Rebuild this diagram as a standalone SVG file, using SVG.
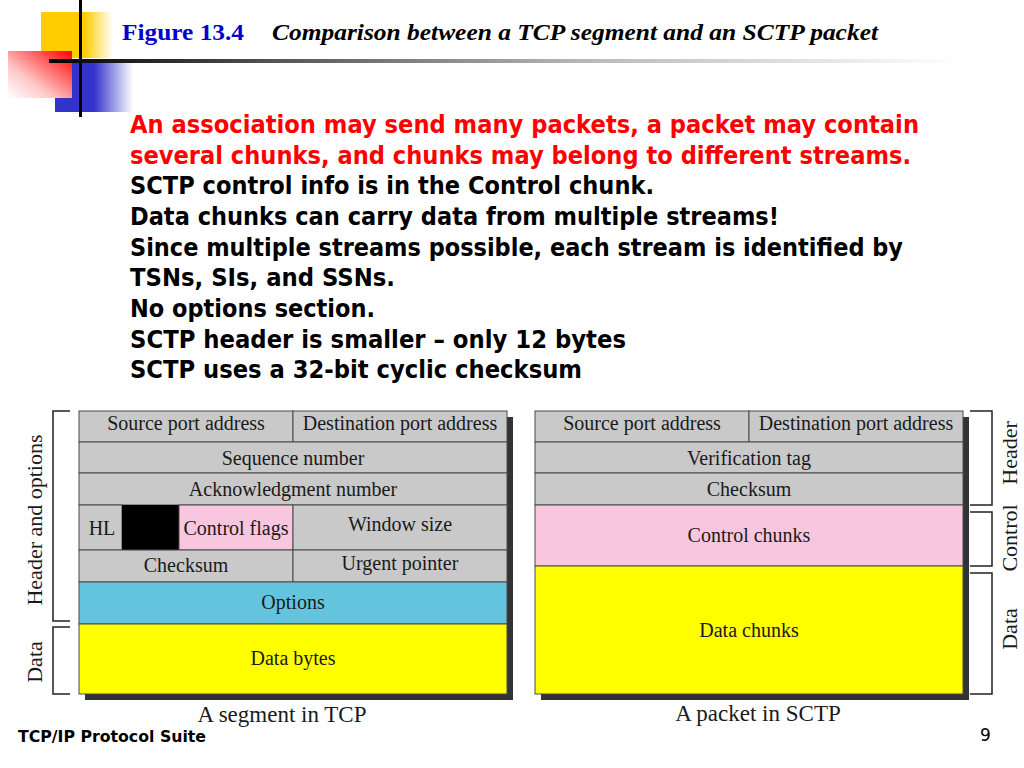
<svg xmlns="http://www.w3.org/2000/svg" width="1024" height="768" viewBox="0 0 1024 768">
<defs>
<linearGradient id="gYel" x1="0" y1="0" x2="1" y2="0"><stop offset="0" stop-color="#FFCC00"/><stop offset="0.6" stop-color="#FFCC00"/><stop offset="1" stop-color="#FFCC00" stop-opacity="0"/></linearGradient>
<linearGradient id="gRed" x1="0" y1="1" x2="1" y2="0"><stop offset="0" stop-color="#FFFFFF"/><stop offset="0.35" stop-color="#FFC8C8"/><stop offset="1" stop-color="#FF0000"/></linearGradient>
<linearGradient id="gBlue" x1="0" y1="0" x2="1" y2="0"><stop offset="0" stop-color="#3333CC"/><stop offset="0.5" stop-color="#3333CC"/><stop offset="1" stop-color="#3333CC" stop-opacity="0"/></linearGradient>
<linearGradient id="gLine" x1="0" y1="0" x2="1" y2="0"><stop offset="0" stop-color="#000000"/><stop offset="0.25" stop-color="#555555"/><stop offset="0.6" stop-color="#BBBBBB"/><stop offset="1" stop-color="#FFFFFF"/></linearGradient>
<style>
.body{font-family:"DejaVu Sans","Liberation Sans",sans-serif;font-weight:bold;font-size:24.5px}
.red{fill:#FF0000}
.blk{fill:#000000}
.lbl{font-family:"Liberation Serif","DejaVu Serif",serif;font-size:20px;fill:#1a1a1a;text-anchor:middle}
.cap{font-family:"Liberation Serif","DejaVu Serif",serif;font-size:23px;fill:#1a1a1a;text-anchor:middle}
.side{font-family:"Liberation Serif","DejaVu Serif",serif;font-size:22px;fill:#1a1a1a;text-anchor:middle}
.cell{stroke:#4a4a4a;stroke-width:1}
.gray{fill:#C9C9C9}
.pink{fill:#F9C6E0}
.blue{fill:#64C4DE}
.yel{fill:#FFFF00}
.shadow{fill:#333333}
.br{fill:none;stroke:#222222;stroke-width:1.5}
</style>
</defs>
<rect width="1024" height="768" fill="#FFFFFF"/>

<g id="logo">
<rect x="41" y="12" width="72" height="46" fill="url(#gYel)"/>
<rect x="55" y="62" width="78" height="50" fill="url(#gBlue)"/>
<rect x="8" y="51" width="64" height="47" fill="url(#gRed)"/>
<rect x="79" y="0" width="3" height="117" fill="#000000"/>
<rect x="49" y="59" width="911" height="4" fill="url(#gLine)"/>
</g>

<g id="title">
<text x="122" y="40" font-family="Liberation Serif,serif" font-weight="bold" font-size="24" fill="#0000CC" textLength="122" lengthAdjust="spacingAndGlyphs">Figure 13.4</text>
<text x="272" y="40" font-family="Liberation Serif,serif" font-weight="bold" font-style="italic" font-size="24" fill="#000000" textLength="606" lengthAdjust="spacingAndGlyphs">Comparison between a TCP segment and an SCTP packet</text>
</g>

<g id="bullets">
<text class="body red" x="130" y="133" textLength="789" lengthAdjust="spacingAndGlyphs">An association may send many packets, a packet may contain</text>
<text class="body red" x="130" y="164" textLength="781" lengthAdjust="spacingAndGlyphs">several chunks, and chunks may belong to different streams.</text>
<text class="body blk" x="130" y="194" textLength="524" lengthAdjust="spacingAndGlyphs">SCTP control info is in the Control chunk.</text>
<text class="body blk" x="130" y="225" textLength="649" lengthAdjust="spacingAndGlyphs">Data chunks can carry data from multiple streams!</text>
<text class="body blk" x="130" y="256" textLength="773" lengthAdjust="spacingAndGlyphs">Since multiple streams possible, each stream is identified by</text>
<text class="body blk" x="130" y="286" textLength="265" lengthAdjust="spacingAndGlyphs">TSNs, SIs, and SSNs.</text>
<text class="body blk" x="130" y="317" textLength="245" lengthAdjust="spacingAndGlyphs">No options section.</text>
<text class="body blk" x="130" y="348" textLength="496" lengthAdjust="spacingAndGlyphs">SCTP header is smaller – only 12 bytes</text>
<text class="body blk" x="130" y="378" textLength="452" lengthAdjust="spacingAndGlyphs">SCTP uses a 32-bit cyclic checksum</text>
</g>

<g id="tcp">
<rect class="shadow" x="85" y="417" width="428" height="283"/>
<rect class="gray cell" x="79" y="411" width="214" height="31"/>
<rect class="gray cell" x="293" y="411" width="214" height="31"/>
<rect class="gray cell" x="79" y="442" width="428" height="31"/>
<rect class="gray cell" x="79" y="473" width="428" height="32"/>
<rect class="gray cell" x="79" y="505" width="43" height="45"/>
<rect x="122" y="505" width="57" height="45" fill="#000000"/>
<rect class="pink cell" x="179" y="505" width="114" height="45"/>
<rect class="gray cell" x="293" y="505" width="214" height="45"/>
<rect class="gray cell" x="79" y="550" width="214" height="32"/>
<rect class="gray cell" x="293" y="550" width="214" height="32"/>
<rect class="blue cell" x="79" y="582" width="428" height="42"/>
<rect class="yel cell" x="79" y="624" width="428" height="70"/>
<text class="lbl" x="186" y="430">Source port address</text>
<text class="lbl" x="400" y="430">Destination port address</text>
<text class="lbl" x="293" y="465">Sequence number</text>
<text class="lbl" x="293" y="496">Acknowledgment number</text>
<text class="lbl" x="102" y="535">HL</text>
<text class="lbl" x="236" y="535">Control flags</text>
<text class="lbl" x="400" y="531">Window size</text>
<text class="lbl" x="186" y="572">Checksum</text>
<text class="lbl" x="400" y="570">Urgent pointer</text>
<text class="lbl" x="293" y="609">Options</text>
<text class="lbl" x="293" y="665">Data bytes</text>
<text class="cap" x="282" y="722">A segment in TCP</text>
</g>

<g id="sctp">
<rect class="shadow" x="541" y="417" width="428" height="283"/>
<rect class="gray cell" x="535" y="411" width="214" height="31"/>
<rect class="gray cell" x="749" y="411" width="214" height="31"/>
<rect class="gray cell" x="535" y="442" width="428" height="31"/>
<rect class="gray cell" x="535" y="473" width="428" height="32"/>
<rect class="pink cell" x="535" y="505" width="428" height="61"/>
<rect class="yel cell" x="535" y="566" width="428" height="128"/>
<text class="lbl" x="642" y="430">Source port address</text>
<text class="lbl" x="856" y="430">Destination port address</text>
<text class="lbl" x="749" y="465">Verification tag</text>
<text class="lbl" x="749" y="496">Checksum</text>
<text class="lbl" x="749" y="542">Control chunks</text>
<text class="lbl" x="749" y="637">Data chunks</text>
<text class="cap" x="758" y="721">A packet in SCTP</text>
</g>

<g id="connectors">
<path class="br" d="M70 411 H53 V621 H70"/>
<path class="br" d="M70 627 H53 V694 H70"/>
<path class="br" d="M970 411 H992 V505 H970"/>
<path class="br" d="M970 512 H992 V566 H970"/>
<path class="br" d="M970 573 H992 V694 H970"/>
</g>

<g id="sidelabels">
<text class="side" transform="translate(42 520) rotate(-90)">Header and options</text>
<text class="side" transform="translate(42 662) rotate(-90)">Data</text>
<text class="side" transform="translate(1017 453) rotate(-90)">Header</text>
<text class="side" transform="translate(1017 538) rotate(-90)">Control</text>
<text class="side" transform="translate(1017 629) rotate(-90)">Data</text>
</g>

<g id="footer">
<text x="18" y="742" font-family="DejaVu Sans,sans-serif" font-weight="bold" font-size="16" fill="#000000" textLength="188" lengthAdjust="spacingAndGlyphs">TCP/IP Protocol Suite</text>
<text x="980" y="741" font-family="DejaVu Sans,sans-serif" font-size="17" fill="#000000">9</text>
</g>
</svg>
